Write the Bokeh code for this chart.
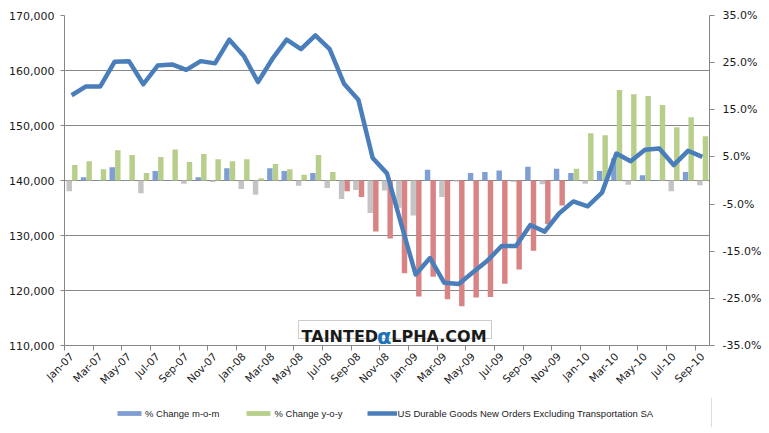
import math
from bokeh.plotting import figure
from bokeh.layouts import column
from bokeh.models import (ColumnDataSource, Range1d, LinearAxis, FixedTicker,
                          NumeralTickFormatter, Legend, LegendItem, Label, BoxAnnotation)
from bokeh.transform import dodge
from bokeh.embed import file_html
from bokeh.resources import INLINE

# ---------------- data ----------------
months = ["Jan-07", "Feb-07", "Mar-07", "Apr-07", "May-07", "Jun-07", "Jul-07", "Aug-07",
          "Sep-07", "Oct-07", "Nov-07", "Dec-07",
          "Jan-08", "Feb-08", "Mar-08", "Apr-08", "May-08", "Jun-08", "Jul-08", "Aug-08",
          "Sep-08", "Oct-08", "Nov-08", "Dec-08",
          "Jan-09", "Feb-09", "Mar-09", "Apr-09", "May-09", "Jun-09", "Jul-09", "Aug-09",
          "Sep-09", "Oct-09", "Nov-09", "Dec-09",
          "Jan-10", "Feb-10", "Mar-10", "Apr-10", "May-10", "Jun-10", "Jul-10", "Aug-10",
          "Sep-10"]

orders = [155500, 157100, 157100, 161600, 161700, 157500, 160900, 161100, 160100, 161700,
          161300, 165600,
          162700, 157900, 162100, 165600, 163900, 166400, 163900, 157600, 154700, 144100,
          141300, 132000,
          122900, 125900, 121400, 121200, 123300, 125400, 128100, 128100, 131900, 130700,
          134000, 136200,
          135300, 137800, 144900, 143500, 145600, 145800, 142800, 145400, 144300]

mom_pct = [-2.3, 0.7, 0.1, 2.8, 0.1, -2.7, 2.0, 0.1, -0.7, 0.7, -0.3, 2.6,
           -1.8, -3.0, 2.6, 2.0, -1.1, 1.6, -1.6, -3.9, -2.0, -6.9, -2.1, -5.8,
           -7.4, 2.3, -3.5, -0.2, 1.6, 1.8, 2.1, -0.3, 2.9, -0.8, 2.5, 1.6,
           -0.7, 2.0, 4.7, -0.9, 1.1, 0.1, -2.3, 1.8, -1.0]

yoy_pct = [3.3, 4.1, 2.4, 6.4, 5.4, 1.6, 5.0, 6.6, 3.9, 5.6, 4.5, 4.1,
           4.5, 0.5, 3.5, 2.4, 1.2, 5.4, 1.8, -2.3, -3.5, -10.8, -12.3, -19.7,
           -24.6, -20.4, -25.2, -26.7, -24.8, -24.7, -21.9, -18.9, -14.9, -9.3, -5.3, 2.5,
           10.0, 9.6, 19.2, 18.3, 17.9, 16.0, 11.3, 13.4, 9.4]

series_names = ["% Change m-o-m", "% Change y-o-y",
                "US Durable Goods New Orders Excluding Transportation SA"]

left_ticks = [110000, 120000, 130000, 140000, 150000, 160000, 170000]
pct_ticks = [-35, -25, -15, -5, 5, 15, 25, 35]
pct_labels = ["-35.0%", "-25.0%", "-15.0%", "-5.0%", "5.0%", "15.0%", "25.0%", "35.0%"]

# ---------------- styles ----------------
BLUE_BAR = "#7F9FD3"
GREY_BAR = "#C4C4C4"
GREEN_BAR = "#B8CF8B"
RED_BAR = "#D98484"
LINE_COL = "#4A7EBB"
AXIS_COL = "#878787"
FONT = "DejaVu Sans"

x = list(range(len(months)))
src = ColumnDataSource(dict(
    x=x, month=months, orders=orders, mom=mom_pct, yoy=yoy_pct,
    mom_color=[BLUE_BAR if v >= 0 else GREY_BAR for v in mom_pct],
    yoy_color=[GREEN_BAR if v >= 0 else RED_BAR for v in yoy_pct],
))

p = figure(frame_width=645, frame_height=330, output_backend="svg", toolbar_location=None,
           x_range=Range1d(-0.5, len(months) - 0.5),
           y_range=Range1d(left_ticks[0], left_ticks[-1]),
           min_border_left=64, min_border_right=58, min_border_top=15, min_border_bottom=52)
p.extra_y_ranges = {"pct": Range1d(pct_ticks[0], pct_ticks[-1])}
p.background_fill_color = "white"
p.border_fill_color = "white"
p.outline_line_color = None

# grid
p.xgrid.visible = False
p.ygrid.ticker = FixedTicker(ticks=left_ticks)
p.ygrid.grid_line_color = AXIS_COL
p.ygrid.grid_line_width = 1

# left axis
ya = p.yaxis[0]
ya.ticker = FixedTicker(ticks=left_ticks)
ya.formatter = NumeralTickFormatter(format="0,0")
ya.axis_line_color = AXIS_COL
ya.major_tick_line_color = AXIS_COL
ya.major_tick_out = 4
ya.major_tick_in = 0
ya.minor_tick_line_color = None
ya.major_label_standoff = 6
ya.major_label_text_font = FONT
ya.major_label_text_font_size = "11px"
ya.major_label_text_color = "#1a1a1a"

# bottom axis
xa = p.xaxis[0]
even = x[::2]
xa.ticker = FixedTicker(ticks=even, minor_ticks=[i - 0.5 for i in even])
xa.major_label_overrides = {i: months[i] for i in even}
xa.major_label_orientation = math.pi / 4
xa.axis_line_color = AXIS_COL
xa.major_tick_line_color = None
xa.major_tick_out = 0
xa.major_tick_in = 0
xa.minor_tick_line_color = AXIS_COL
xa.minor_tick_out = 5
xa.minor_tick_in = 0
xa.major_label_standoff = 4
xa.major_label_text_font = FONT
xa.major_label_text_font_size = "10.5px"
xa.major_label_text_color = "#1a1a1a"

# right axis
ra = LinearAxis(y_range_name="pct", ticker=FixedTicker(ticks=pct_ticks),
                major_label_overrides=dict(zip(pct_ticks, pct_labels)))
ra.axis_line_color = AXIS_COL
ra.major_tick_line_color = AXIS_COL
ra.major_tick_out = 5
ra.major_tick_in = 0
ra.minor_tick_line_color = None
ra.major_label_standoff = 8
ra.major_label_text_font = FONT
ra.major_label_text_font_size = "11px"
ra.major_label_text_color = "#1a1a1a"
p.add_layout(ra, "right")

# bars
p.vbar(x=dodge("x", -0.17), top="mom", bottom=0, width=0.38,
       fill_color="mom_color", line_color=None, y_range_name="pct", source=src)
p.vbar(x=dodge("x", 0.22), top="yoy", bottom=0, width=0.38,
       fill_color="yoy_color", line_color=None, y_range_name="pct", source=src)

# line
p.line("x", "orders", line_width=4.5, line_color=LINE_COL, line_join="round", source=src)

# watermark
p.add_layout(BoxAnnotation(left=15.83, right=29.29, bottom=111273, top=114545,
                           fill_color="white", fill_alpha=1.0,
                           line_color="#555555", line_width=1))
p.add_layout(Label(x=16.04, y=111700, text="TAINTED", text_font=FONT,
                   text_font_size="16px", text_font_style="bold", text_color="#1a1a1a",
                   text_baseline="alphabetic"))
p.add_layout(Label(x=21.3, y=111600, text="α", text_font=FONT,
                   text_font_size="21px", text_font_style="bold", text_color="#1C75BC",
                   text_baseline="alphabetic"))
p.add_layout(Label(x=22.3, y=111700, text="LPHA.COM", text_font=FONT,
                   text_font_size="16px", text_font_style="bold", text_color="#1a1a1a",
                   text_baseline="alphabetic"))

# ---------------- legend strip (separate small figure under the chart) ----------------
leg_fig = figure(width=769, height=30, output_backend="svg", toolbar_location=None,
                 x_range=Range1d(0, 1), y_range=Range1d(0, 1),
                 x_axis_type=None, y_axis_type=None, min_border=0)
leg_fig.outline_line_color = None
leg_fig.background_fill_color = "white"
leg_fig.border_fill_color = "white"
# key glyphs: single points placed outside the visible range, used only for legend keys
key_mom = leg_fig.vbar(x=[5], top=[1], width=0.1, fill_color=BLUE_BAR, line_color=None)
key_yoy = leg_fig.vbar(x=[5], top=[1], width=0.1, fill_color=GREEN_BAR, line_color=None)
key_line = leg_fig.line(x=[5, 6], y=[0.5, 0.5], line_width=4.5, line_color=LINE_COL)

legend = Legend(items=[
    LegendItem(label=series_names[0], renderers=[key_mom]),
    LegendItem(label=series_names[1], renderers=[key_yoy]),
    LegendItem(label=series_names[2], renderers=[key_line]),
], orientation="horizontal", location=(50, 8))
legend.border_line_color = None
legend.background_fill_alpha = 0
legend.glyph_width = 30
legend.glyph_height = 6
legend.label_height = 12
legend.label_standoff = 1
legend.spacing = 24
legend.padding = 0
legend.margin = 0
legend.label_text_font = "Liberation Sans"
legend.label_text_font_size = "9.5px"
legend.label_text_color = "#1a1a1a"
leg_fig.add_layout(legend)

layout = column(p, leg_fig)
open("out.html", "w").write(file_html(layout, INLINE))
